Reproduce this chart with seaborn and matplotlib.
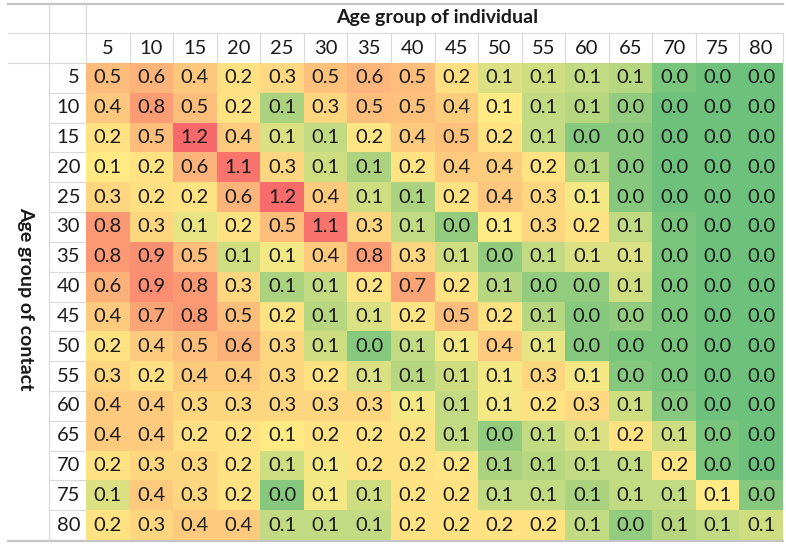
import numpy as np
import pandas as pd
import seaborn as sns
import matplotlib.pyplot as plt
from matplotlib.colors import LinearSegmentedColormap, TwoSlopeNorm

# Age groups (upper bound of each 5-year band)
individual_ages = [5, 10, 15, 20, 25, 30, 35, 40, 45, 50, 55, 60, 65, 70, 75, 80]
contact_ages = [5, 10, 15, 20, 25, 30, 35, 40, 45, 50, 55, 60, 65, 70, 75, 80]

# Mean daily contacts; one list per age group of contact (rows)
c05 = [0.52, 0.58, 0.42, 0.21, 0.28, 0.48, 0.57, 0.50, 0.22, 0.10, 0.09, 0.08, 0.07, 0.02, 0.01, 0.01]
c10 = [0.42, 0.78, 0.50, 0.20, 0.06, 0.30, 0.50, 0.48, 0.38, 0.13, 0.08, 0.07, 0.04, 0.01, 0.01, 0.01]
c15 = [0.20, 0.50, 1.20, 0.40, 0.10, 0.08, 0.18, 0.40, 0.48, 0.20, 0.08, 0.03, 0.03, 0.01, 0.01, 0.01]
c20 = [0.13, 0.20, 0.58, 1.10, 0.30, 0.09, 0.06, 0.20, 0.40, 0.38, 0.20, 0.07, 0.03, 0.01, 0.01, 0.01]
c25 = [0.30, 0.22, 0.20, 0.58, 1.18, 0.40, 0.09, 0.06, 0.20, 0.42, 0.30, 0.12, 0.03, 0.01, 0.01, 0.01]
c30 = [0.80, 0.30, 0.11, 0.20, 0.50, 1.10, 0.30, 0.08, 0.04, 0.13, 0.30, 0.20, 0.08, 0.02, 0.01, 0.01]
c35 = [0.80, 0.88, 0.50, 0.09, 0.12, 0.40, 0.78, 0.30, 0.09, 0.04, 0.08, 0.10, 0.10, 0.02, 0.01, 0.01]
c40 = [0.60, 0.90, 0.80, 0.30, 0.06, 0.08, 0.20, 0.70, 0.20, 0.07, 0.04, 0.04, 0.09, 0.02, 0.01, 0.01]
c45 = [0.40, 0.70, 0.80, 0.50, 0.20, 0.07, 0.10, 0.20, 0.50, 0.20, 0.07, 0.03, 0.04, 0.02, 0.01, 0.01]
c50 = [0.20, 0.40, 0.50, 0.60, 0.30, 0.09, 0.03, 0.08, 0.12, 0.40, 0.11, 0.03, 0.02, 0.02, 0.01, 0.01]
c55 = [0.30, 0.22, 0.40, 0.40, 0.30, 0.20, 0.10, 0.07, 0.09, 0.12, 0.30, 0.12, 0.03, 0.02, 0.01, 0.01]
c60 = [0.40, 0.40, 0.30, 0.30, 0.30, 0.30, 0.30, 0.12, 0.08, 0.12, 0.20, 0.28, 0.09, 0.03, 0.01, 0.01]
c65 = [0.40, 0.40, 0.22, 0.20, 0.13, 0.20, 0.20, 0.20, 0.08, 0.04, 0.08, 0.10, 0.20, 0.09, 0.02, 0.01]
c70 = [0.20, 0.30, 0.30, 0.20, 0.09, 0.12, 0.20, 0.20, 0.18, 0.06, 0.07, 0.08, 0.08, 0.18, 0.02, 0.01]
c75 = [0.10, 0.40, 0.30, 0.20, 0.03, 0.12, 0.09, 0.20, 0.20, 0.08, 0.08, 0.06, 0.08, 0.08, 0.13, 0.03]
c80 = [0.20, 0.30, 0.40, 0.40, 0.08, 0.08, 0.08, 0.20, 0.20, 0.20, 0.20, 0.08, 0.04, 0.07, 0.08, 0.09]

contacts = pd.DataFrame(
    [c05, c10, c15, c20, c25, c30, c35, c40, c45, c50, c55, c60, c65, c70, c75, c80],
    index=contact_ages, columns=individual_ages,
)

FONT = "Lato"
GRID = "#d9d9d9"
TEXT = "#1a1a1a"
FS = 14.5

W, H = 786, 545
fig = plt.figure(figsize=(W / 100, H / 100), dpi=100)

# Pixel-space layer for the spreadsheet frame and headers
frame = fig.add_axes([0, 0, 1, 1])
frame.set_xlim(0, W)
frame.set_ylim(H, 0)
frame.axis("off")

x0, x1, y0, y1 = 86, 783, 63, 540
ax = fig.add_axes([x0 / W, 1 - y1 / H, (x1 - x0) / W, (y1 - y0) / H])

cmap = LinearSegmentedColormap.from_list("gyr", ["#63BE7B", "#FFEB84", "#F8696B"])
norm = TwoSlopeNorm(vmin=0.0, vcenter=0.13, vmax=1.2)

sns.heatmap(
    contacts, ax=ax, cmap=cmap, norm=norm, cbar=False,
    annot=True, fmt=".1f",
    annot_kws=dict(size=FS, color=TEXT, family=FONT),
    xticklabels=individual_ages, yticklabels=contact_ages,
)
ax.xaxis.tick_top()
ax.set_xlabel("")
ax.set_ylabel("")
ax.tick_params(axis="both", length=0, labelsize=FS, labelcolor=TEXT)
ax.tick_params(axis="x", pad=4.3)
ax.tick_params(axis="y", pad=4.3)
for lab in ax.get_xticklabels():
    lab.set_family(FONT)
    lab.set_rotation(0)
for lab in ax.get_yticklabels():
    lab.set_family(FONT)
    lab.set_rotation(0)

# Spreadsheet gridlines around the table
n = len(individual_ages)
col_w = (x1 - x0) / n
row_h = (y1 - y0) / n
lw = 0.8
frame.plot([8, x1], [4, 4], color="#c4c4c4", lw=1.6)
frame.plot([8, x1], [541, 541], color="#c4c4c4", lw=1.6)
frame.plot([8, x1], [33, 33], color=GRID, lw=lw)
frame.plot([8, x0], [y0, y0], color=GRID, lw=lw)
frame.plot([49, 49], [4, 541], color=GRID, lw=lw)
frame.plot([x0, x0], [4, y0], color=GRID, lw=lw)
for i in range(1, n + 1):
    xx = x0 + i * col_w
    frame.plot([xx, xx], [33, y0], color=GRID, lw=lw)
for j in range(1, n):
    yy = y0 + j * row_h
    frame.plot([49, x0], [yy, yy], color=GRID, lw=lw)

frame.text(437, 18, "Age group of individual", ha="center", va="center",
           fontsize=14, fontweight="bold", color=TEXT, family=FONT)
frame.text(26, 299, "Age group of contact", ha="center", va="center",
           rotation=-90, fontsize=14, fontweight="bold", color=TEXT, family=FONT)

fig.savefig("out.png", dpi=100)
